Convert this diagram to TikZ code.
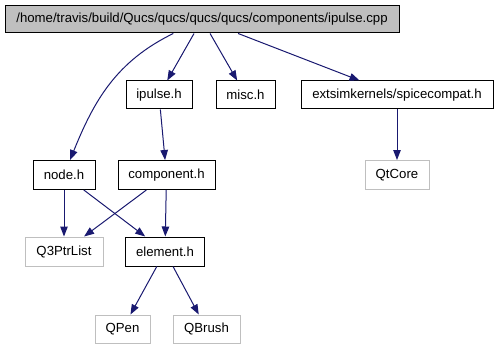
\documentclass[tikz,border=0pt]{standalone}
\usepackage{fontspec}
\setmainfont{Liberation Sans}
\usetikzlibrary{arrows.meta}
\definecolor{igEdge}{HTML}{191970}
\definecolor{igGray}{HTML}{BFBFBF}
\tikzset{
  igArrow/.style={-{Triangle[length=10pt,width=7.5pt]},line width=1pt,draw=igEdge},
  igFile/.style={draw=black,fill=white,line width=1pt,inner sep=0pt,
    minimum height=28pt,font=\fontsize{13.2}{15}\selectfont,text=black},
  igRoot/.style={igFile,fill=igGray,minimum height=27pt},
  igExt/.style={igFile,draw=igGray}
}
\begin{document}
\begin{tikzpicture}[x=1pt,y=1pt]
\path[use as bounding box] (0,0) rectangle (499,349);
% source file and its direct includes
\node[igRoot,minimum width=394pt] (root) at (202,329.5)
  {/home/travis/build/Qucs/qucs/qucs/qucs/components/ipulse.cpp};
\node[igFile,minimum width=66pt] (ipulse) at (159,254) {ipulse.h};
\node[igFile,minimum width=59pt] (misc) at (245.5,254) {misc.h};
\node[igFile,minimum width=192pt] (spice) at (397,254) {extsimkernels/spicecompat.h};
% second level
\node[igFile,minimum width=62pt,minimum height=29pt] (nodeh) at (64,174) {node.h};
\node[igFile,minimum width=97pt,minimum height=29pt] (comp) at (166.5,174) {component.h};
\node[igExt,minimum width=64pt,minimum height=29pt] (qtcore) at (397,174) {QtCore};
% third level
\node[igExt,minimum width=78pt,minimum height=29pt] (qlist) at (64,97.5) {Q3PtrList};
\node[igFile,minimum width=79pt,minimum height=29pt] (elem) at (165,97.5) {element.h};
% Qt headers pulled in by element.h
\node[igExt,minimum width=55pt] (qpen) at (122.5,20) {QPen};
\node[igExt,minimum width=67pt] (qbrush) at (206.5,20) {QBrush};
\draw[igArrow] (root) to[out=206,in=68] (nodeh);
\foreach \from/\to in {root/ipulse,root/misc,root/spice,ipulse/comp,spice/qtcore,
    nodeh/qlist,nodeh/elem,comp/qlist,comp/elem,elem/qpen,elem/qbrush}
  \draw[igArrow] (\from) -- (\to);
\end{tikzpicture}
\end{document}
